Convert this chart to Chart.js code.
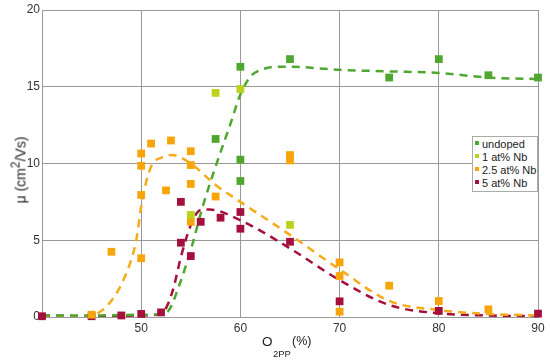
<!DOCTYPE html>
<html>
<head>
<meta charset="utf-8">
<script src="https://cdn.jsdelivr.net/npm/chart.js@4"></script>
<style>
  body { margin: 0; background: #fff; font-family: "Liberation Sans", Arial, sans-serif; }
  #wrap { position: relative; width: 550px; height: 363px; }
  #legend { position: absolute; left: 472px; top: 136px; width: 64px; height: 53px; border: 1px solid #aaa; background: #fff;
            font-size: 11px; line-height: 13px; color: #222; padding: 1px 0 0 0; white-space: nowrap; }
  #legend div { padding-left: 2px; }
  #legend i { display: inline-block; width: 4px; height: 4px; margin-right: 3px; vertical-align: 3px; }
  .xt { position: absolute; color: #222; white-space: nowrap; line-height: 1; }
  #ytitle { position: absolute; left: 21px; top: 170px; color: #222; white-space: nowrap; font-size: 14px; line-height: 16px;
            transform: translate(-50%, -50%) rotate(-90deg); }
</style>
</head>
<body>
<div id="wrap">
  <canvas id="c" width="550" height="363"></canvas>
  <div id="legend"></div>
  <span class="xt" style="left:262px;top:335px;font-size:13.5px">O</span>
  <span class="xt" style="left:273px;top:349px;font-size:9.5px">2PP</span>
  <span class="xt" style="left:292px;top:335px;font-size:12.5px">(%)</span>
  <div id="ytitle">μ (cm<span style="font-size:12px;position:relative;top:-6px">2</span>/Vs)</div>
</div>
<script>
// measured points
var undopedX = [57.5, 60, 60, 60, 65, 75, 80, 85, 90];
var undopedY = [11.6, 16.3, 10.25, 8.86, 16.8, 15.6, 16.8, 15.75, 15.6];
var nb1X = [55, 57.5, 60, 65];
var nb1Y = [6.65, 14.6, 14.85, 6.0];
var nb25X = [45, 47, 50, 50, 50, 50, 51, 52.5, 53, 55, 55, 55, 55, 57.5, 65, 65, 70, 70, 70, 75, 80, 85];
var nb25Y = [0.15, 4.25, 10.65, 9.85, 7.95, 3.83, 11.3, 8.25, 11.5, 10.8, 9.9, 8.67, 6.2, 7.85, 10.55, 10.2, 3.56, 2.67, 0.35, 2.04, 1.04, 0.5];
var nb5X = [40, 45, 48, 50, 52, 54, 54, 55, 56, 58, 60, 60, 65, 70, 80, 90];
var nb5Y = [0.05, 0.05, 0.1, 0.2, 0.3, 7.5, 4.84, 3.97, 6.2, 6.47, 6.84, 5.75, 4.9, 1.02, 0.4, 0.22];

// fitted curves (dashed)
var fitUndopedX = [40, 45, 50, 52, 52.8, 53.8, 55.1, 56.2, 57.5, 58.9, 60, 61, 62.3, 63.5, 65, 70, 75, 80, 85, 90];
var fitUndopedY = [0.1, 0.1, 0.15, 0.2, 0.45, 2.0, 4.6, 7.2, 9.8, 12.4, 14.5, 15.65, 16.15, 16.3, 16.3, 16.1, 16.0, 15.9, 15.6, 15.5];
var fitNb25X = [40, 43, 45, 46.8, 48.5, 49.5, 50.1, 51, 52.1, 53.1, 55, 57.5, 60, 65, 70, 75, 80, 85, 90];
var fitNb25Y = [0.1, 0, 0.1, 0.9, 2.85, 5.0, 7.6, 9.8, 10.4, 10.55, 10.0, 8.6, 7.5, 5.35, 3.1, 1.05, 0.45, 0.2, 0.1];
var fitNb5X = [40, 45, 50, 52, 53.1, 54.1, 55.2, 56, 56.9, 60, 65, 70, 75, 80, 85, 90];
var fitNb5Y = [0.1, 0.05, 0.1, 0.2, 1.55, 4.15, 6.3, 6.97, 7.0, 6.3, 4.47, 2.4, 0.78, 0.24, 0.1, 0.05];

var names = ['undoped', '1 at% Nb', '2.5 at% Nb', '5 at% Nb'];
var colors = ['#4fa72f', '#bcd21c', '#f6a60a', '#a50f3b'];
var xTicks = [50, 60, 70, 80, 90];
var yTicks = [0, 5, 10, 15, 20];

function pts(xs, ys) { return xs.map(function(x, i){ return {x: x, y: ys[i]}; }); }

function markers(i, xs, ys) {
  return { label: names[i], data: pts(xs, ys), backgroundColor: colors[i], borderColor: colors[i],
           pointStyle: 'rect', pointRadius: 5.5, pointHoverRadius: 5.5, borderWidth: 0, clip: false, order: 1 };
}
function fit(col, xs, ys) {
  return { label: 'fit', data: pts(xs, ys), showLine: true, borderColor: col, borderWidth: 2.5,
           borderDash: [8, 6], pointRadius: 0, cubicInterpolationMode: 'monotone', fill: false, order: 2 };
}

var ctx = document.getElementById('c').getContext('2d');
var plot = new Chart(ctx, {
  type: 'scatter',
  data: {
    datasets: [
      markers(0, undopedX, undopedY),
      markers(1, nb1X, nb1Y),
      markers(2, nb25X, nb25Y),
      markers(3, nb5X, nb5Y),
      fit(colors[0], fitUndopedX, fitUndopedY),
      fit('#f5ab1a', fitNb25X, fitNb25Y),
      fit(colors[3], fitNb5X, fitNb5Y)
    ]
  },
  options: {
    responsive: false,
    animation: false,
    layout: { padding: { left: 0, right: 12, top: 10, bottom: 0 } },
    plugins: { legend: { display: false }, tooltip: { enabled: false } },
    scales: {
      x: {
        type: 'linear', min: 40, max: 90,
        afterFit: function(s){ s.height = 46; },
        afterBuildTicks: function(s){ s.ticks = [40].concat(xTicks).map(function(v){ return {value: v}; }); },
        ticks: { color: '#333', font: { size: 12, family: 'Liberation Sans' }, padding: 4,
                 callback: function(v){ return v === 40 ? '' : v; } },
        grid: { color: '#999', lineWidth: 1, drawTicks: false },
        border: { color: '#999' }
      },
      y: {
        min: 0, max: 20,
        afterFit: function(s){ s.width = 42; },
        afterBuildTicks: function(s){ s.ticks = yTicks.map(function(v){ return {value: v}; }); },
        ticks: { color: '#333', font: { size: 12, family: 'Liberation Sans' }, padding: 2 },
        grid: { color: '#999', lineWidth: 1, drawTicks: false },
        border: { color: '#999' }
      }
    }
  }
});

// legend box inside plot
var lg = document.getElementById('legend');
names.forEach(function(n, i){
  var d = document.createElement('div');
  d.innerHTML = '<i style="background:' + colors[i] + '"></i>' + n;
  lg.appendChild(d);
});
</script>
</body>
</html>
